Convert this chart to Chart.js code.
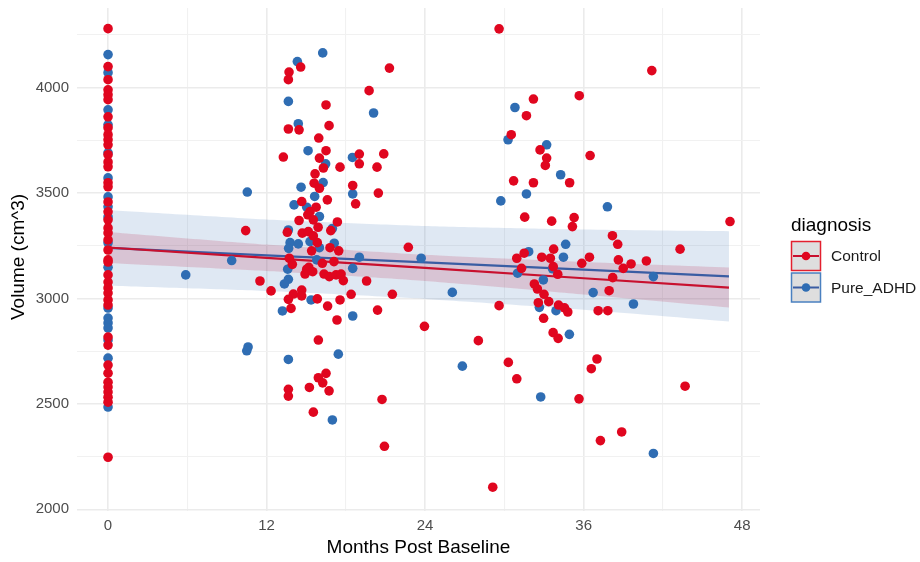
<!DOCTYPE html>
<html>
<head>
<meta charset="utf-8">
<script src="https://cdn.jsdelivr.net/npm/chart.js@4/dist/chart.umd.min.js"></script>
<style>
  html, body { margin: 0; padding: 0; background: #ffffff; }
  #wrap { position: relative; width: 920px; height: 562px; }
</style>
</head>
<body>
<div id="wrap"><canvas id="c" width="920" height="562"></canvas></div>
<script>
// ---------------- DATA ----------------
const seriesNames = ["Control", "Pure_ADHD"];

// Tick labels
const xMajorTicks = [0, 12, 24, 36, 48];
const xMinorTicks = [6, 18, 30, 42];
const yMajorTicks = [2000, 2500, 3000, 3500, 4000];
const yMinorTicks = [2250, 2750, 3250, 3750, 4250];

// Control (red) points
const controlMonths = [
  0,0,0,0,0,0,0,0,0,0,0,0,0,0,0,0,0,0,0,0,0,0,0,0,0,0,0,0,0,0,0,0,0,0,0,0,0,0,0,0,0,
  10.42,11.5,12.34,14.58,13.7,13.65,21.3,19.76,16.5,13.65,14.46,16.73,15.95,16.5,13.27,16,16.3,17.56,
  19.02,19.02,20.87,20.36,15.67,15.6,16,18.52,20.46,18.74,16.6,14.66,15.75,15.29,15.12,15.54,14.46,
  17.36,15.9,16.86,13.57,14.7,15.16,15.54,15.84,15.41,16.8,17.46,22.73,13.72,17.1,16.22,15.2,13.95,
  15.04,14.91,15.49,16.35,16.75,17.26,17.64,17.81,19.57,21.52,14.03,14.66,14.66,13.65,15.84,17.56,
  18.4,13.85,16.62,20.4,17.33,23.95,15.92,16.5,15.92,16.25,16.73,15.24,13.65,13.65,20.74,15.54,20.92,
  29.6,32.2,35.67,31.67,30.52,32.7,33.2,33.1,36.49,30.7,32.2,34.94,31.54,33.58,35.28,35.15,38.18,
  38.58,33.73,31.5,30.94,32.83,33.48,36.44,38.63,35.86,31.3,39.0,33.7,34.04,38.2,32.27,32.5,33.0,
  37.93,33.36,32.57,34.1,34.55,34.8,37.1,37.83,29.6,32.97,33.69,34.07,28.03,30.3,30.94,35.65,37.01,
  36.58,38.88,37.27,29.12,41.16,47.08,43.3,39.59,40.75,43.68
];
const controlVolume = [
  4280,4100,4038,3990,3967,3943,3862,3810,3777,3753,3729,3682,3648,3625,3549,3530,3458,3411,3373,3335,
  3311,3278,3230,3183,3173,3112,3078,3050,3026,2993,2969,2817,2779,2684,2646,2603,2580,2556,2532,2508,2247,
  3322,3083,3036,4098,4074,4038,4093,3986,3918,3804,3800,3820,3761,3701,3671,3666,3619,3623,
  3685,3639,3686,3623,3591,3547,3523,3536,3500,3449,3468,3460,3433,3412,3397,3373,3370,
  3363,3338,3322,3314,3310,3317,3297,3265,3226,3241,3226,3243,3191,3175,3167,3148,3162,
  3139,3116,3127,3116,3104,3112,3116,3085,3083,3020,3021,3040,3012,2996,2998,2993,
  3020,2953,2964,2945,2898,2868,2803,2645,2624,2600,2562,2578,2569,2537,2521,2461,2299,
  4279,3946,3962,3867,3777,3705,3666,3631,3678,3558,3549,3549,3386,3367,3384,3341,3298,
  3257,3234,3215,3191,3196,3191,3196,3183,3167,3143,3143,3151,3115,3099,3069,3045,3020,
  3037,2985,2980,2969,2956,2936,2942,2942,2966,2906,2838,2811,2800,2697,2619,2524,2713,
  2667,2367,2326,2105,4081,3365,3234,3164,3178,2584
];

// Pure_ADHD (blue) points
const adhdMonths = [
  0,0,0,0,0,0,0,0,0,0,0,0,0,0,0,0,0,0,
  10.54,9.36,5.88,10.6,10.5,16.25,14.33,13.65,20.1,14.4,15.14,16.47,18.5,16.28,18.52,14.61,15.64,
  14.08,15.04,16,16.98,13.65,13.78,14.4,13.67,15.29,17.12,16,19.02,23.7,15.8,18.52,13.6,13.65,13.35,
  15.37,13.2,18.52,13.65,17.43,16.98,
  30.8,30.28,33.2,34.26,31.67,29.73,37.8,34.64,31.84,34.47,33.65,31.0,32.95,26.06,36.72,32.65,33.91,
  34.92,26.82,32.75,41.28,39.77,41.28
];
const adhdVolume = [
  4157,4071,3895,3824,3691,3572,3482,3435,3387,3264,3148,2955,2907,2884,2860,2803,2717,2485,
  3505,3180,3112,2770,2752,4165,4124,3935,3880,3829,3701,3639,3669,3550,3496,3528,3484,
  3444,3433,3389,3332,3325,3265,3259,3238,3270,3262,3241,3196,3191,3183,3143,3139,3091,3069,
  2993,2941,2917,2711,2736,2424,
  3906,3753,3729,3587,3496,3463,3435,3257,3222,3196,3141,3120,3088,3029,3028,2958,2942,
  2830,2679,2533,3104,2974,2265
];

// Fitted linear trend and confidence band, read at these months
const fitMonths   = [0, 12, 24, 36, 47];
const controlFit   = [3242, 3193, 3145, 3096, 3052];
const controlUpper = [3316, 3256, 3207, 3173, 3147];
const controlLower = [3168, 3130, 3083, 3019, 2957];
const adhdFit      = [3240, 3205, 3171, 3137, 3105];
const adhdUpper    = [3420, 3375, 3344, 3327, 3319];
const adhdLower    = [3060, 3035, 2998, 2947, 2891];

// ---------------- STYLE ----------------
const RED = '#E0061F';
const BLUE = '#2F6DB3';
const RED_LINE = '#C8102E';
const BLUE_LINE = '#3A5DA3';
const FONT = '"Liberation Sans", Arial, Helvetica, sans-serif';

const toXY = (xs, ys) => xs.map((x, i) => ({ x: x, y: ys[i] }));

const ribbonBase = {
  type: 'line', pointRadius: 0, borderWidth: 0, tension: 0.2,
  pointHoverRadius: 0
};

const overlayPlugin = {
  id: 'overlay',
  afterDraw(chart) {
    const ctx = chart.ctx;
    const a = chart.chartArea;
    ctx.save();
    // axis titles
    ctx.fillStyle = '#000000';
    ctx.font = '19px ' + FONT;
    ctx.textAlign = 'center';
    ctx.textBaseline = 'middle';
    ctx.fillText('Months Post Baseline', (a.left + a.right) / 2, 548);
    ctx.save();
    ctx.translate(19, 257);
    ctx.rotate(-Math.PI / 2);
    ctx.fillText('Volume (cm^3)', 0, 0);
    ctx.restore();

    // legend
    ctx.textAlign = 'left';
    ctx.font = '19px ' + FONT;
    ctx.fillText('diagnosis', 791, 226);
    const items = [
      { label: seriesNames[0], line: RED_LINE, pt: RED, border: '#E3202E' },
      { label: seriesNames[1], line: BLUE_LINE, pt: BLUE, border: '#4A80C0' }
    ];
    items.forEach((it, i) => {
      const y0 = 241.5 + i * 31.5;
      ctx.fillStyle = '#DEDEDE';
      ctx.fillRect(791.5, y0, 29, 29);
      ctx.strokeStyle = it.border;
      ctx.lineWidth = 1.5;
      ctx.strokeRect(791.5, y0, 29, 29);
      ctx.beginPath();
      ctx.moveTo(793, y0 + 14.5);
      ctx.lineTo(819, y0 + 14.5);
      ctx.strokeStyle = it.line;
      ctx.lineWidth = 2;
      ctx.stroke();
      ctx.beginPath();
      ctx.arc(806, y0 + 14.5, 4.3, 0, Math.PI * 2);
      ctx.fillStyle = it.pt;
      ctx.fill();
      ctx.fillStyle = '#1a1a1a';
      ctx.font = '15.5px ' + FONT;
      ctx.fillText(it.label, 831, y0 + 15.5);
    });
    ctx.restore();
  }
};

new Chart(document.getElementById('c'), {
  type: 'scatter',
  data: {
    datasets: [
      Object.assign({}, ribbonBase, {
        label: 'adhdUpper', data: toXY(fitMonths, adhdUpper), fill: '+1',
        backgroundColor: 'rgba(55,110,180,0.16)', borderColor: 'rgba(0,0,0,0)', order: 20
      }),
      Object.assign({}, ribbonBase, {
        label: 'adhdLower', data: toXY(fitMonths, adhdLower), fill: false,
        borderColor: 'rgba(0,0,0,0)', order: 20
      }),
      Object.assign({}, ribbonBase, {
        label: 'controlUpper', data: toXY(fitMonths, controlUpper), fill: '+1',
        backgroundColor: 'rgba(185,25,60,0.17)', borderColor: 'rgba(0,0,0,0)', order: 15
      }),
      Object.assign({}, ribbonBase, {
        label: 'controlLower', data: toXY(fitMonths, controlLower), fill: false,
        borderColor: 'rgba(0,0,0,0)', order: 15
      }),
      {
        type: 'line', label: 'adhdFit', data: toXY(fitMonths, adhdFit), borderColor: BLUE_LINE,
        borderWidth: 2.2, pointRadius: 0, fill: false, order: 6
      },
      {
        type: 'line', label: 'controlFit', data: toXY(fitMonths, controlFit), borderColor: RED_LINE,
        borderWidth: 2.2, pointRadius: 0, fill: false, order: 5
      },
      {
        label: seriesNames[1], data: toXY(adhdMonths, adhdVolume), backgroundColor: BLUE,
        borderWidth: 0, pointRadius: 4.8, pointHoverRadius: 4.8, order: 2
      },
      {
        label: seriesNames[0], data: toXY(controlMonths, controlVolume), backgroundColor: RED,
        borderWidth: 0, pointRadius: 4.8, pointHoverRadius: 4.8, order: 1
      }
    ]
  },
  options: {
    responsive: false,
    animation: false,
    devicePixelRatio: 1,
    layout: { padding: { top: 8, right: 160, left: 0, bottom: 0 } },
    plugins: { legend: { display: false }, tooltip: { enabled: false } },
    scales: {
      x: {
        type: 'linear', min: -2.35, max: 49.35,
        afterBuildTicks: (s) => { s.ticks = xMajorTicks.concat(xMinorTicks).sort((a, b) => a - b).map(v => ({ value: v })); },
        afterFit: (s) => { s.height = 51; s.paddingLeft = 0; s.paddingRight = 0; },
        border: { display: false },
        grid: {
          drawTicks: false,
          color: (c) => (xMajorTicks.includes(c.tick && c.tick.value) ? '#EBEBEB' : '#F1F1F1'),
          lineWidth: (c) => (xMajorTicks.includes(c.tick && c.tick.value) ? 1.6 : 1.1)
        },
        ticks: {
          autoSkip: false, maxRotation: 0, padding: 6, color: '#4D4D4D',
          font: { family: FONT, size: 15 },
          callback: (v) => (xMajorTicks.includes(v) ? String(v) : '')
        }
      },
      y: {
        type: 'linear', min: 1992, max: 4378,
        afterBuildTicks: (s) => { s.ticks = yMajorTicks.concat(yMinorTicks).sort((a, b) => a - b).map(v => ({ value: v })); },
        afterFit: (s) => { s.width = 77; s.paddingTop = 0; s.paddingBottom = 0; },
        border: { display: false },
        grid: {
          drawTicks: false,
          color: (c) => (yMajorTicks.includes(c.tick && c.tick.value) ? '#EBEBEB' : '#F1F1F1'),
          lineWidth: (c) => (yMajorTicks.includes(c.tick && c.tick.value) ? 1.6 : 1.1)
        },
        ticks: {
          autoSkip: false, padding: 8, color: '#4D4D4D',
          font: { family: FONT, size: 15 },
          callback: (v) => (yMajorTicks.includes(v) ? String(v) : '')
        }
      }
    }
  },
  plugins: [overlayPlugin]
});
</script>
</body>
</html>
